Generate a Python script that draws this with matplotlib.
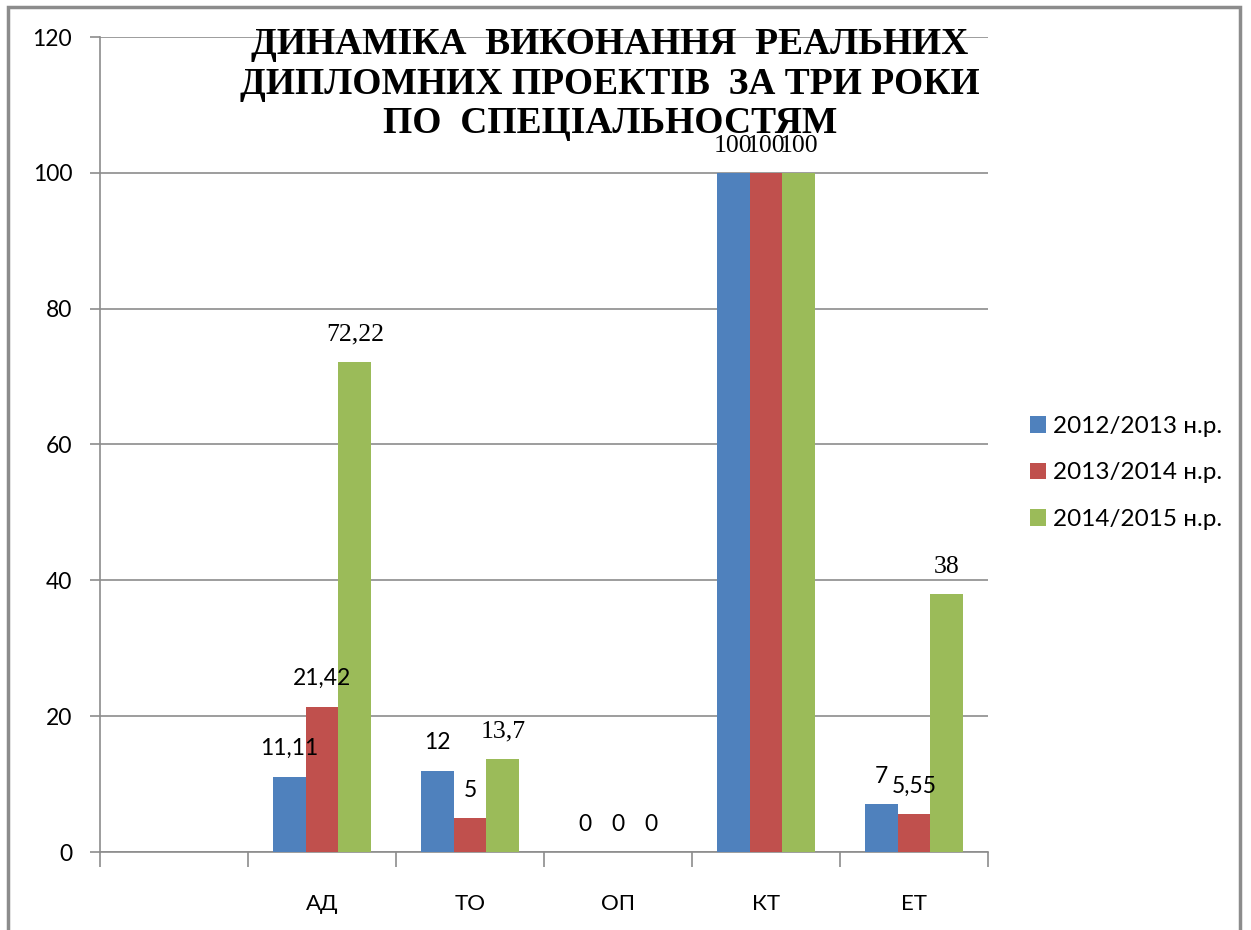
import matplotlib
matplotlib.use("Agg")
from matplotlib import pyplot as plt
from matplotlib.patches import Rectangle
import numpy as np

# data
categories = ["", "АД", "ТО", "ОП", "КТ", "ЕТ"]
series_names = ["2012/2013 н.р.", "2013/2014 н.р.", "2014/2015 н.р."]
v_2012 = [None, 11.11, 12, 0, 100, 7]
v_2013 = [None, 21.42, 5, 0, 100, 5.55]
v_2014 = [None, 72.22, 13.7, 0, 100, 38]
labels_2012 = ["", "11,11", "12", "0", "100", "7"]
labels_2013 = ["", "21,42", "5", "0", "100", "5,55"]
labels_2014 = ["", "72,22", "13,7", "0", "100", "38"]
title = "ДИНАМІКА  ВИКОНАННЯ  РЕАЛЬНИХ\nДИПЛОМНИХ ПРОЕКТІВ  ЗА ТРИ РОКИ\nПО  СПЕЦІАЛЬНОСТЯМ"

# label fonts as they appear in the original (mixed serif / sans)
serif_2012 = [0, 0, 0, 0, 1, 0]
serif_2013 = [0, 0, 0, 0, 1, 0]
serif_2014 = [0, 1, 1, 0, 1, 1]
colors = ["#4F81BD", "#C0504D", "#9BBB59"]
grey = "#8c8c8c"

fig = plt.figure(figsize=(12.51, 9.30), dpi=100)
ax = fig.add_axes([100/1251, 1-852/930, 888/1251, 815/930])

x = np.arange(len(categories))
w = 0.222
all_vals = [v_2012, v_2013, v_2014]
all_labs = [labels_2012, labels_2013, labels_2014]
all_serif = [serif_2012, serif_2013, serif_2014]
for i in range(3):
    vals, labs, ser = all_vals[i], all_labs[i], all_serif[i]
    idx = [k for k, v in enumerate(vals) if v is not None]
    xs = [x[k] + (i-1)*w for k in idx]
    vs = [vals[k] for k in idx]
    ax.bar(xs, vs, width=w, color=colors[i], label=series_names[i], zorder=3)
    for k, xx, vv in zip(idx, xs, vs):
        if ser[k]:
            ax.annotate(labs[k], (xx, vv), xytext=(0, 19.5), textcoords="offset points",
                        ha="center", va="center", fontsize=18.5, family="Liberation Serif", zorder=5)
        else:
            ax.annotate(labs[k], (xx, vv), xytext=(0, 20), textcoords="offset points",
                        ha="center", va="center", fontsize=16.5, family="Lato", zorder=5)

ax.set_xlim(-0.5, len(categories)-0.5)
ax.set_ylim(0, 120)
ax.set_yticks(np.arange(0, 121, 20))
ax.grid(axis="y", color=grey, linewidth=1.2, zorder=0)
ax.set_xticks(x)
ax.set_xticklabels(categories, family="Lato", fontsize=16)
ax.set_xticks(np.arange(-0.5, len(categories)), minor=True)
ax.tick_params(axis="x", which="major", length=0, pad=30)
ax.tick_params(axis="x", which="minor", length=11, color=grey, width=1.2)
ax.tick_params(axis="y", length=7, color=grey, width=1.2, pad=13)
for t in ax.get_yticklabels():
    t.set_family("Lato")
    t.set_fontsize(16.5)
for s in ["top", "right"]:
    ax.spines[s].set_visible(False)
for s in ["left", "bottom"]:
    ax.spines[s].set_color(grey)
    ax.spines[s].set_linewidth(1.2)

fig.text(610/1251, 1-84/930, title, ha="center", va="center", fontsize=27,
         fontweight="bold", family="Liberation Serif", linespacing=1.15)

leg = fig.legend(loc="center left", bbox_to_anchor=(1008/1251, 1-473/930), frameon=False,
                 prop={"family": "Lato", "size": 17.5}, handlelength=0.65, handleheight=0.65,
                 handletextpad=0.3, labelspacing=1.05)

fig.patches.append(Rectangle((8/1251, -0.05), 1232/1251, 1.05-7/930, transform=fig.transFigure,
                             fill=False, edgecolor=grey, linewidth=2.5))

fig.savefig("out.png", dpi=100)
